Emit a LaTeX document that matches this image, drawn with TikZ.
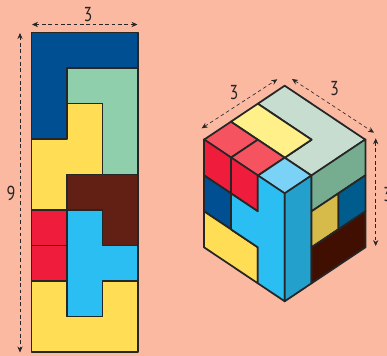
\documentclass[tikz,border=0pt]{standalone}
\usepackage{fontspec}
\setmainfont{PT Sans}
\usetikzlibrary{arrows.meta}
\definecolor{peach}{HTML}{FBB9A2}
\definecolor{navy}{HTML}{004F92}
\definecolor{mint}{HTML}{90CFAB}
\definecolor{sun}{HTML}{FFDD55}
\definecolor{choco}{HTML}{622014}
\definecolor{cherry}{HTML}{EF1C3C}
\definecolor{sky}{HTML}{2BBEF2}
\definecolor{topmint}{HTML}{C6DDD0}
\definecolor{topsun}{HTML}{FFF08A}
\definecolor{topcherry}{HTML}{F4535F}
\definecolor{topsky}{HTML}{7BD2F7}
\definecolor{sidemint}{HTML}{76AC90}
\definecolor{sidesky}{HTML}{23A0CB}
\definecolor{sidesun}{HTML}{D6BA4A}
\definecolor{sidenavy}{HTML}{015C8E}
\definecolor{sidechoco}{HTML}{410F02}
\definecolor{ink}{HTML}{262626}
\tikzset{
  piece/.style={draw=ink,line width=1pt,line join=round,fill=#1},
  dimline/.style={draw=ink,line width=0.35pt,dash pattern=on 2pt off 1.6pt,
    {Stealth[length=3.4pt,width=3pt]}-{Stealth[length=3.4pt,width=3pt]}},
  dimlabel/.style={text=ink,font=\fontsize{11.5}{13}\selectfont,inner sep=0pt,xscale=0.8,transform shape}
}
\begin{document}
\begin{tikzpicture}[x=0.02cm,y=-0.02cm]
  \path[use as bounding box,fill=peach] (0,0) rectangle (387,356);
  % Flat strip
  \begin{scope}[shift={(31.5,32.5)},x=0.71cm,y=-0.71cm]
    \draw[piece=navy] (0,0) -- (3,0) -- (3,1) -- (1,1) -- (1,3) -- (0,3) -- cycle;
    \draw[piece=mint] (1,1) -- (3,1) -- (3,4) -- (2,4) -- (2,2) -- (1,2) -- cycle;
    \draw[piece=sun] (1,2) -- (2,2) -- (2,4) -- (1,4) -- (1,5) -- (0,5) -- (0,3) -- (1,3) -- cycle;
    \draw[piece=choco] (1,4) -- (3,4) -- (3,6) -- (2,6) -- (2,5) -- (1,5) -- cycle;
    \draw[piece=cherry] (0,5) -- (1,5) -- (1,6) -- (0,6) -- cycle;
    \draw[piece=cherry] (0,6) -- (1,6) -- (1,7) -- (0,7) -- cycle;
    \draw[piece=sun] (0,7) -- (1,7) -- (1,8) -- (2,8) -- (2,7) -- (3,7) -- (3,9) -- (0,9) -- cycle;
    \draw[piece=sky] (1,5) -- (2,5) -- (2,6) -- (3,6) -- (3,7) -- (2,7) -- (2,8) -- (1,8) -- cycle;
  \end{scope}
  % Cube, top face
  \begin{scope}[shift={(284.7,85.7)},x={(0.538cm,-0.36cm)},y={(-0.538cm,-0.36cm)}]
    \draw[piece=topmint] (0,0) -- (3,0) -- (3,2) -- (2,2) -- (2,1) -- (0,1) -- cycle;
    \draw[piece=topsun] (0,1) -- (2,1) -- (2,2) -- (0,2) -- cycle;
    \draw[piece=topcherry] (0,2) -- (1,2) -- (1,3) -- (0,3) -- cycle;
    \draw[piece=topcherry] (1,2) -- (2,2) -- (2,3) -- (1,3) -- cycle;
    \draw[piece=topsky] (2,2) -- (3,2) -- (3,3) -- (2,3) -- cycle;
  \end{scope}
  % Cube, left face
  \begin{scope}[shift={(204,139.3)},x={(0.538cm,-0.36cm)},y={(0cm,-0.72cm)}]
    \draw[piece=cherry] (0,0) -- (1,0) -- (1,1) -- (0,1) -- cycle;
    \draw[piece=cherry] (1,0) -- (2,0) -- (2,1) -- (1,1) -- cycle;
    \draw[piece=navy] (0,1) -- (1,1) -- (1,2) -- (0,2) -- cycle;
    \draw[piece=sun] (0,2) -- (2,2) -- (2,3) -- (0,3) -- cycle;
    \draw[piece=sky] (1,1) -- (2,1) -- (2,0) -- (3,0) -- (3,3) -- (2,3) -- (2,2) -- (1,2) -- cycle;
  \end{scope}
  % Cube, right face
  \begin{scope}[shift={(284.7,193.3)},x={(0.538cm,0.36cm)},y={(0cm,-0.72cm)}]
    \draw[piece=sidesky] (0,0) -- (1,0) -- (1,3) -- (0,3) -- cycle;
    \draw[piece=sidemint] (1,0) -- (3,0) -- (3,1) -- (1,1) -- cycle;
    \draw[piece=sidesun] (1,1) -- (2,1) -- (2,2) -- (1,2) -- cycle;
    \draw[piece=sidenavy] (2,1) -- (3,1) -- (3,2) -- (2,2) -- cycle;
    \draw[piece=sidechoco] (1,2) -- (3,2) -- (3,3) -- (1,3) -- cycle;
  \end{scope}
  % Dimensions
  \coordinate (stripwest) at (32,24.5);
  \coordinate (stripeast) at (137.5,24.5);
  \coordinate (striptop) at (20,33);
  \coordinate (stripbottom) at (20,352.5);
  \coordinate (cubewest) at (201.7,128.3);
  \coordinate (cubenorthl) at (277.3,79.3);
  \coordinate (cubenorthr) at (292,79);
  \coordinate (cubeeast) at (374,132.7);
  \coordinate (sidetop) at (375.7,138.3);
  \coordinate (sidebottom) at (375.7,246);
  \draw[dimline] (stripwest) -- (stripeast);
  \draw[dimline] (striptop) -- (stripbottom);
  \draw[dimline] (cubewest) -- (cubenorthl);
  \draw[dimline] (cubenorthr) -- (cubeeast);
  \draw[dimline] (sidetop) -- (sidebottom);
  \node[dimlabel] (stripwidth) at (88,15) {3};
  \node[dimlabel] (stripheight) at (11,193) {9};
  \node[dimlabel] (cubeleft) at (234,93) {3};
  \node[dimlabel] (cuberight) at (334.5,89) {3};
  \node[dimlabel] (cubeheight) at (387.5,195) {3};
\end{tikzpicture}
\end{document}
